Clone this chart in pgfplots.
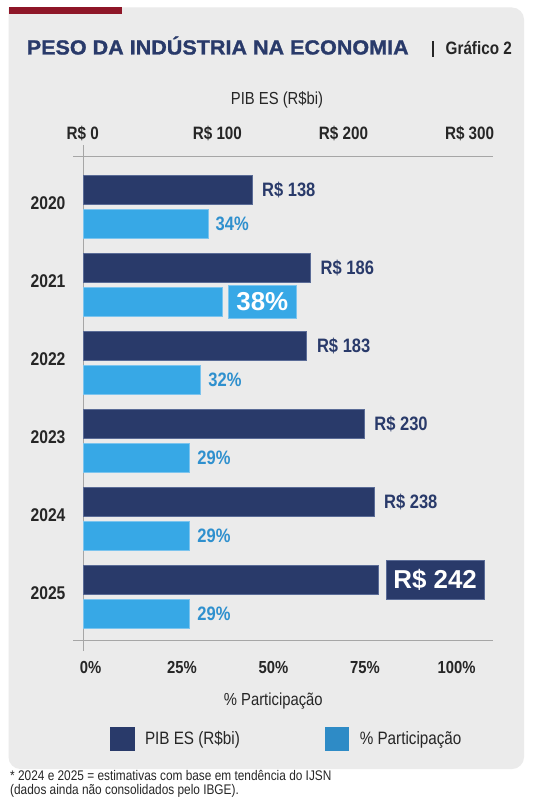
\documentclass[border=0pt]{standalone}
\usepackage{fontspec}
\setmainfont{Liberation Sans}
\newfontfamily\cond{Liberation Sans}[FakeStretch=0.85]
\newfontfamily\wide{Liberation Sans}[FakeStretch=1.055, FakeBold=1.2]
\usepackage{pgfplots}
\usepackage{pgfplotstable}
\pgfplotsset{compat=1.18}

\definecolor{navy}{HTML}{293A6A}
\definecolor{navyedge}{HTML}{5A6B96}
\definecolor{sky}{HTML}{37A8E6}
\definecolor{skyedge}{HTML}{7CC4EE}
\definecolor{skytext}{HTML}{2F90CE}
\definecolor{skykey}{HTML}{2E8BC6}
\definecolor{panel}{HTML}{EBEBEB}
\definecolor{wine}{HTML}{8E1628}
\definecolor{ink}{HTML}{262626}
\definecolor{rule}{HTML}{A6A6A6}

% PIB do ES (R$ bilhões) e participação da indústria (%)
\pgfplotstableread{
year pib
2020 138
2021 186
2022 183
2023 230
2024 238
2025 242
}\pibdata
\pgfplotstableread{
year share
2020 34
2021 38
2022 32
2023 29
2024 29
2025 29
}\sharedata

\pgfplotsset{
  panelaxis/.style={
    at={(83.5bp,-156.5bp)}, anchor=north west,
    scale only axis, width=409.2bp, height=484.1bp,
    y dir=reverse, ymin=2019.354, ymax=2025.560,
    xmin=0,
    axis line style={draw=none},
    tick style={draw=none},
    xbar, bar width=29bp,
    /pgf/number format/assume math mode=true,
    clip=false,
  },
}

\begin{document}
\begin{tikzpicture}
\begin{scope}[x=1bp,y=-1bp]
\path[use as bounding box] (0,0) rectangle (535,811);
\fill[white] (0,0) rectangle (535,811);
% painel cinza com faixa vinho
\fill[panel] (8.5,7.5) -- (200,7.5) [rounded corners=12bp] -- (524,7.5) -- (524,769) -- (8.5,769) -- (8.5,100) [sharp corners] -- cycle;
\fill[wine] (8.5,7.5) rectangle (122,13.6);

% título
\node[anchor=base west, inner sep=0pt, text=navy] at (26.6,54.5)
  {\wide\bfseries\fontsize{20.5}{24}\selectfont PESO DA INDÚSTRIA NA ECONOMIA};
\draw[ink, line width=1.3bp] (433,41) -- (433,57);
\node[anchor=base east, inner sep=0pt, text=ink] at (512,54.5)
  {\cond\bfseries\fontsize{18}{20}\selectfont Gráfico 2};
\node[anchor=base, inner sep=0pt, text=ink] at (277,104)
  {\cond\fontsize{17.5}{20}\selectfont PIB ES (R\$bi)};
\end{scope}

% eixo superior: PIB em R$ bi
\begin{axis}[panelaxis, name=pib, xmax=335.4,
  xtick={0,100,200,300}, xticklabels={R\$ 0,R\$ 100,R\$ 200,R\$ 300},
  xticklabel pos=upper,
  xticklabel style={anchor=base west, inner sep=0pt, text=ink,
    font=\cond\bfseries\fontsize{18}{20}\selectfont,
    yshift=16.7bp, xshift={-17bp+4.1bp*\ticknum}},
  ytick={2020,2021,2022,2023,2024,2025},
  yticklabels={2020,2021,2022,2023,2024,2025},
  yticklabel style={anchor=east, inner sep=0pt, xshift=-13.6bp, yshift=3.9bp,
    text=ink, font=\cond\bfseries\fontsize{18.5}{20}\selectfont},
  bar shift=17bp,
  point meta=x,
  nodes near coords={R\$ \pgfmathprintnumber{\pgfplotspointmeta}},
  every node near coord/.append style={anchor=west},
  coordinate style/.condition={x<240}{inner sep=0pt, xshift=10bp,
    text=navy, font=\cond\bfseries\fontsize{19.5}{21}\selectfont},
  coordinate style/.condition={x>240}{fill=navy, draw=navyedge, text=white,
    inner xsep=7.5bp, inner ysep=0pt, minimum height=39bp, xshift=6.8bp,
    font=\bfseries\fontsize{26}{28}\selectfont},
]
\draw[rule, line width=1.2bp] ([xshift=-10.2bp]axis cs:0,2019.354) -- (axis cs:335.4,2019.354);
\draw[rule, line width=1.2bp] ([xshift=-10.2bp]axis cs:0,2025.560) -- (axis cs:335.4,2025.560);
\draw[rule, line width=1.2bp] ([yshift=11.5bp]axis cs:0,2019.354) -- ([yshift=-10.2bp]axis cs:0,2025.560);
\addplot[fill=navy, draw=navyedge, line width=0.6bp] table[x=pib, y=year] {\pibdata};
\end{axis}

% eixo inferior: participação da indústria (%)
\begin{axis}[panelaxis, xmax=111.8,
  xtick={0,25,50,75,100}, xticklabels={0\%,25\%,50\%,75\%,100\%},
  xticklabel pos=lower,
  xticklabel style={anchor=base, inner sep=0pt, yshift=-32.4bp, xshift=7bp,
    text=ink, font=\cond\bfseries\fontsize{17.5}{20}\selectfont},
  ytick=\empty,
  bar shift=-17bp,
  point meta=x,
  nodes near coords={\pgfmathprintnumber{\pgfplotspointmeta}\%},
  every node near coord/.append style={anchor=west},
  coordinate style/.condition={x<37}{inner sep=0pt, xshift=7.5bp,
    text=skytext, font=\cond\bfseries\fontsize{19.5}{21}\selectfont},
  coordinate style/.condition={x>37}{fill=sky, draw=skyedge, text=white,
    inner xsep=8.5bp, inner ysep=0pt, minimum height=33bp, xshift=5bp,
    font=\bfseries\fontsize{26}{28}\selectfont},
  legend columns=2,
  legend style={at={(axis description cs:0.0643,-0.2026)}, anchor=west,
    draw=none, fill=none, inner sep=0pt, outer sep=0pt,
    /tikz/every odd column/.append style={column sep=11bp},
    /tikz/every even column/.append style={column sep=85bp},
    nodes={inner sep=0pt, text=ink, font=\cond\fontsize{18}{20}\selectfont}},
]
\addlegendimage{legend image code/.code={\fill[navy] (0bp,-11.9bp) rectangle (23.8bp,11.9bp);}}
\addlegendentry{PIB ES (R\$bi)}
\addlegendimage{legend image code/.code={\fill[skykey] (0bp,-11.9bp) rectangle (23.5bp,11.9bp);}}
\addlegendentry{\% Participação}
\addplot[fill=sky, draw=skyedge, line width=0.6bp, forget plot] table[x=share, y=year] {\sharedata};
\end{axis}

\begin{scope}[x=1bp,y=-1bp]
\node[anchor=base, inner sep=0pt, text=ink] at (273.3,705.4)
  {\cond\fontsize{17.5}{20}\selectfont \% Participação};
% nota de rodapé
\node[anchor=base west, inner sep=0pt, text=ink] at (10,780.7)
  {\cond\fontsize{14}{15}\selectfont * 2024 e 2025 = estimativas com base em tendência do IJSN};
\node[anchor=base west, inner sep=0pt, text=ink] at (10,794.7)
  {\cond\fontsize{14}{15}\selectfont (dados ainda não consolidados pelo IBGE).};
\end{scope}
\end{tikzpicture}
\end{document}
